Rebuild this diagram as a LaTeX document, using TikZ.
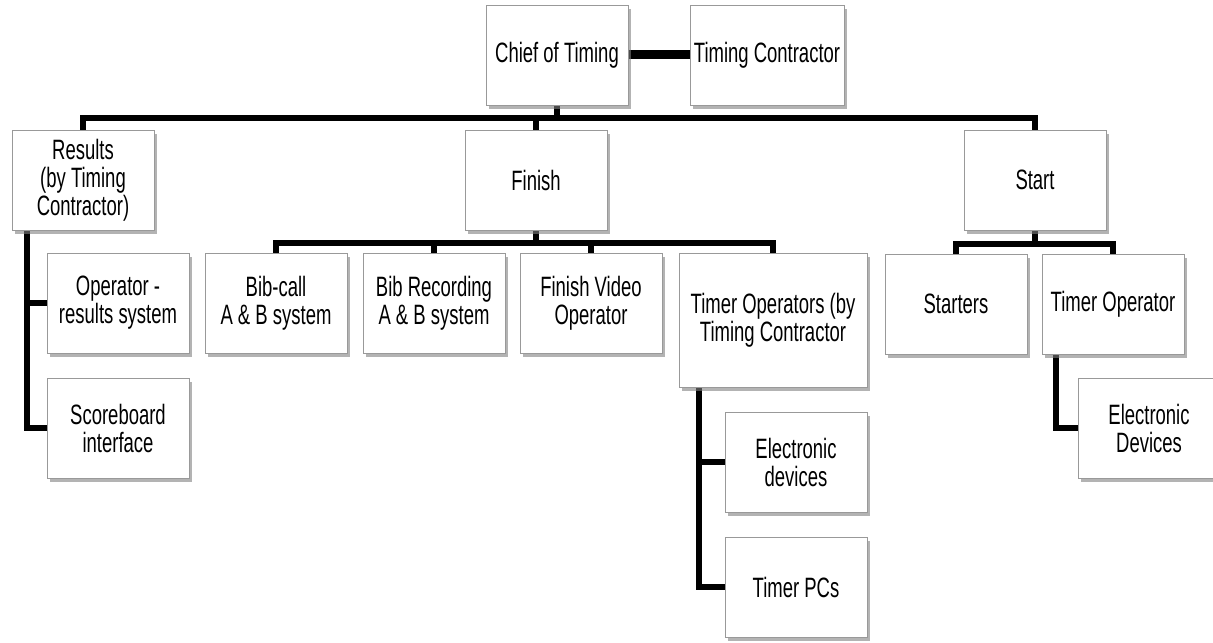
\documentclass[tikz,border=0pt]{standalone}
\usepackage{fontspec}
\setmainfont{Liberation Sans}[FakeStretch=0.66]
\usetikzlibrary{shadows,backgrounds}
\tikzset{
  box/.style    ={draw=black!40,fill=white,align=center,inner sep=2pt,
                  minimum width=71pt,minimum height=50pt,
                  font=\fontsize{14}{14}\selectfont,
                  drop shadow={shadow xshift=1.5pt,shadow yshift=-1.8pt,
                               fill=black!50,opacity=.6}},
  widebox/.style={box,minimum width=94pt,minimum height=67pt},
  link/.style   ={line width=3pt,black},
  tie/.style    ={line width=4.5pt,black},
}

\begin{document}
\begin{tikzpicture}[x=0.5pt,y=-0.5pt]
\useasboundingbox (0,0) rectangle (1213,642);
% top level
\node[box] (chief) at (557,55) {Chief of Timing};
\node[box] (contractor) at (767,55) {Timing Contractor};
% second level
\node[box] (results) at (83,180) {Results\\(by Timing\\Contractor)};
\node[box] (finish) at (536,180) {Finish};
\node[box] (start) at (1035,180) {Start};
% results branch
\node[box] (operator) at (118,303) {Operator -\\results system};
\node[box] (scoreboard) at (118,428) {Scoreboard\\interface};
% finish branch
\node[box] (bibcall) at (276,303) {Bib-call\\A \& B system};
\node[box] (bibrec) at (434,303) {Bib Recording\\A \& B system};
\node[box] (video) at (591,303) {Finish Video\\Operator};
\node[widebox] (timerops) at (773,320) {Timer Operators (by\\Timing Contractor};
\node[box] (elec) at (796,462) {Electronic\\devices};
\node[box] (pcs) at (796,587) {Timer PCs};
% start branch
\node[box] (starters) at (956,304) {Starters};
\node[box] (timerop) at (1113,304) {Timer Operator};
\node[box] (elecdev) at (1149,428) {Electronic\\Devices};

\begin{scope}[on background layer]
\draw[tie] (chief.east) -- (contractor.west);
\draw[link] (chief.south) -- ++(0,13);
\draw[link] (results.north) -- ++(0,-12) -| (start.north);
\draw[link] (finish.north) -- ++(0,-12);
\draw[link] ([xshift=7.5pt]results.south west) |- (operator.west);
\draw[link] ([xshift=7.5pt]results.south west) |- (scoreboard.west);
\draw[link] (finish.south) -- ++(0,13);
\draw[link] (bibcall.north) -- ++(0,-10) -| (timerops.north);
\draw[link] (bibrec.north) -- ++(0,-10);
\draw[link] (video.north) -- ++(0,-10);
\draw[link] ([xshift=10pt]timerops.south west) |- (elec.west);
\draw[link] ([xshift=10pt]timerops.south west) |- (pcs.west);
\draw[link] (start.south) -- ++(0,13);
\draw[link] (starters.north) -- ++(0,-10) -| (timerop.north);
\draw[link] ([xshift=7pt]timerop.south west) |- (elecdev.west);
\end{scope}
\end{tikzpicture}
\end{document}
